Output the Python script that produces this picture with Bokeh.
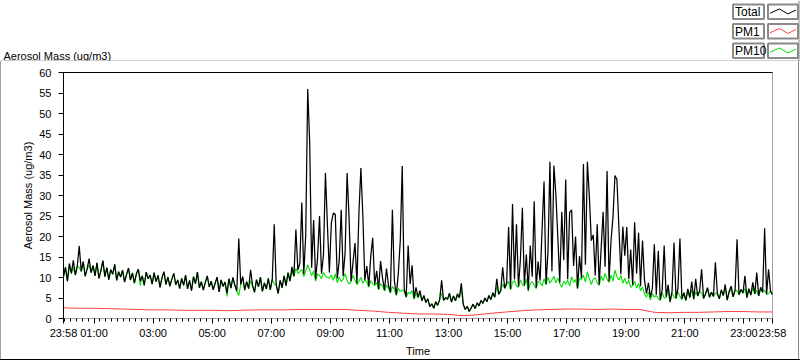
import pandas as pd
from bokeh.plotting import figure
from bokeh.layouts import column, row
from bokeh.models import (FixedTicker, DatetimeTickFormatter, LinearAxis, Range1d, Spacer)
from bokeh.core.properties import value
from bokeh.embed import file_html
from bokeh.resources import INLINE

# ---------------- data ----------------
start = pd.Timestamp("2010-06-14 23:58")
end = start + pd.Timedelta(hours=24)

# Total aerosol mass, one value every 4 minutes from 23:58 (15 values per hour)
total_mass = [
    10.2, 12.5, 9.1, 13.4, 11.0, 14.2, 10.6, 12.8, 17.7, 11.5, 13.9, 10.3, 12.1, 14.6, 11.2,
    12.9, 10.4, 13.6, 9.8, 11.7, 14.1, 10.2, 12.4, 9.5, 11.9, 10.8, 13.2, 9.3, 11.4, 10.1,
    11.8, 8.9, 10.7, 12.3, 9.4, 11.1, 8.6, 10.9, 12.0, 9.2, 10.4, 8.1, 11.3, 9.7, 10.6,
    8.4, 11.2, 9.0, 10.5, 7.6, 9.9, 11.4, 8.3, 10.1, 7.9, 9.6, 11.0, 8.2, 9.4, 7.3,
    9.8, 8.1, 10.6, 7.2, 9.3, 6.8, 10.2, 8.5, 11.3, 7.5, 9.0, 6.9, 8.8, 10.4, 7.7,
    9.1, 7.0, 8.6, 10.1, 6.5, 9.4, 7.8, 8.9, 6.2, 9.7, 7.4, 10.0, 8.1, 6.7, 19.5,
    8.3, 10.2, 6.9, 9.0, 7.3, 11.9, 8.0, 6.4, 9.5, 7.7, 10.1, 6.6, 8.7, 7.2, 9.8,
    7.0, 9.6, 23.0, 8.2, 6.1, 9.3, 7.5, 10.4, 8.0, 11.2, 9.1, 12.6, 10.3, 21.7, 11.8,
    13.5, 28.3, 10.8, 20.5, 56.0, 43.0, 12.4, 24.0, 9.6, 14.8, 25.0, 10.9, 15.6, 35.5, 22.9,
    11.2, 23.3, 25.7, 25.4, 9.8, 14.1, 26.5, 10.3, 16.2, 35.5, 24.5, 9.1, 13.7, 18.4, 8.6,
    25.7, 36.7, 25.0, 9.4, 12.8, 7.9, 15.1, 19.7, 8.3, 11.6, 7.2, 14.0, 9.8, 6.9, 12.2,
    8.1, 6.4, 26.5, 9.2, 5.8, 11.0, 19.0, 37.2, 7.1, 5.3, 17.8, 8.4, 13.0, 4.9, 7.6,
    5.2, 6.8, 4.3, 5.6, 3.9, 4.8, 2.9, 3.6, 2.5, 4.1, 3.2, 4.6, 9.3, 4.4, 5.1,
    4.7, 6.2, 4.0, 5.5, 4.3, 6.0, 5.1, 8.6, 3.4, 2.2, 3.0, 1.7, 2.6, 3.5, 2.4,
    3.8, 3.1, 4.4, 3.7, 5.0, 4.1, 5.6, 4.6, 6.3, 5.2, 9.7, 5.9, 6.8, 12.5, 7.4,
    8.6, 22.3, 7.2, 27.9, 9.5, 23.0, 7.8, 14.4, 27.0, 8.1, 15.6, 6.9, 17.8, 10.2, 28.6,
    7.5, 13.9, 9.2, 21.7, 33.4, 8.4, 16.3, 38.2, 11.5, 37.3, 30.3, 19.7, 8.8, 26.0, 14.2,
    33.9, 9.6, 25.9, 26.5, 12.8, 20.0, 7.4, 15.2, 9.9, 37.7, 13.1, 38.2, 29.8, 19.0, 20.4,
    10.5, 23.0, 8.3, 17.1, 26.0, 12.6, 36.0, 9.1, 18.9, 24.7, 34.9, 33.9, 22.3, 10.8, 22.4,
    15.3, 22.3, 9.6, 16.8, 8.2, 23.5, 11.0, 20.9, 7.9, 19.0, 9.4, 6.1, 8.7, 5.2, 7.3,
    18.1, 5.8, 16.5, 4.6, 7.0, 17.8, 5.3, 8.2, 4.1, 6.6, 18.5, 5.0, 7.4, 19.5, 4.8,
    6.3, 4.4, 7.2, 5.1, 9.0, 4.7, 9.7, 5.5, 6.8, 12.0, 4.9, 6.0, 7.5, 5.2, 6.4,
    5.4, 13.7, 6.1, 4.8, 7.0, 5.6, 8.3, 4.5, 6.6, 7.9, 5.3, 6.9, 19.3, 5.8, 7.1,
    6.2, 10.4, 5.1, 7.3, 5.7, 8.8, 6.0, 11.2, 5.5, 7.6, 6.4, 22.0, 5.9, 12.0, 6.7,
    5.8,
]

# PM10, same 4-minute sampling
pm10_mass = [
    10.2, 12.5, 9.1, 13.4, 11.0, 12.5, 10.6, 12.8, 12.4, 11.5, 13.9, 10.3, 12.1, 13.0, 11.2,
    12.9, 10.4, 13.6, 9.8, 11.7, 14.1, 10.2, 12.4, 9.5, 11.9, 10.8, 13.2, 9.3, 11.4, 10.1,
    11.8, 8.9, 10.7, 12.3, 9.4, 11.1, 8.6, 10.9, 12.0, 8.0, 10.4, 8.1, 11.3, 9.7, 10.6,
    8.4, 11.2, 9.0, 10.5, 7.6, 9.9, 11.4, 8.3, 10.1, 7.9, 9.6, 11.0, 8.2, 9.4, 7.3,
    9.8, 8.1, 10.6, 7.2, 9.3, 6.8, 10.2, 8.5, 11.3, 7.5, 9.0, 6.9, 8.8, 10.4, 7.7,
    9.1, 7.0, 8.6, 10.1, 6.5, 9.4, 7.8, 8.9, 5.4, 9.7, 7.4, 10.0, 8.1, 6.7, 5.6,
    8.3, 10.2, 6.9, 9.0, 7.3, 9.2, 8.0, 6.4, 9.5, 7.7, 10.1, 6.6, 8.7, 7.2, 9.8,
    7.0, 9.6, 8.4, 8.2, 6.1, 9.3, 7.5, 10.4, 8.0, 11.2, 9.1, 11.4, 10.3, 12.2, 11.0,
    11.4, 12.0, 10.2, 11.5, 13.1, 11.8, 10.4, 11.6, 9.1, 10.9, 10.5, 9.7, 11.2, 10.4, 10.0,
    9.8, 10.6, 9.3, 10.9, 8.7, 10.1, 9.0, 9.6, 11.0, 9.2, 8.4, 9.0, 10.5, 9.3, 8.2,
    9.1, 10.0, 8.6, 9.4, 8.9, 7.6, 9.2, 8.4, 8.0, 8.8, 7.0, 8.5, 7.9, 6.7, 8.1,
    7.4, 6.2, 7.8, 7.1, 5.6, 7.3, 6.6, 7.0, 6.5, 5.1, 6.4, 6.0, 6.8, 4.7, 6.2,
    5.0, 6.1, 4.3, 5.4, 3.9, 4.8, 2.9, 3.6, 2.5, 4.1, 3.2, 4.6, 6.2, 4.4, 5.0,
    4.7, 5.8, 4.0, 5.5, 4.3, 5.6, 5.1, 7.2, 3.4, 2.2, 3.0, 1.7, 2.6, 3.5, 2.4,
    3.8, 3.1, 4.4, 3.7, 5.0, 4.1, 5.6, 4.6, 6.0, 5.2, 7.8, 5.9, 6.8, 8.4, 7.4,
    8.3, 9.1, 7.0, 8.8, 9.2, 7.9, 7.6, 9.4, 8.2, 7.9, 9.6, 6.7, 8.5, 9.0, 8.1,
    7.3, 9.0, 8.8, 7.9, 9.7, 8.2, 10.1, 8.6, 9.4, 10.3, 8.7, 9.9, 8.5, 7.6, 9.1,
    8.4, 9.3, 7.9, 10.2, 8.8, 9.5, 7.2, 9.8, 9.5, 10.6, 8.9, 11.4, 9.7, 8.3, 9.6,
    9.9, 8.7, 8.1, 10.4, 9.2, 11.0, 9.5, 8.8, 10.6, 9.1, 11.8, 10.2, 9.4, 10.5, 8.6,
    9.8, 8.4, 9.3, 7.6, 8.0, 9.1, 7.4, 8.5, 6.8, 7.7, 6.0, 5.2, 6.5, 4.5, 6.1,
    5.2, 5.6, 4.8, 4.4, 6.3, 5.0, 5.1, 6.9, 3.9, 6.2, 5.3, 4.8, 6.6, 5.4, 4.6,
    6.1, 4.4, 6.8, 5.1, 7.0, 4.7, 6.5, 5.5, 6.6, 6.2, 4.9, 6.0, 7.3, 5.2, 6.4,
    5.4, 6.2, 6.0, 4.8, 6.8, 5.6, 7.4, 4.5, 6.4, 7.1, 5.3, 6.9, 6.8, 5.8, 6.9,
    6.2, 7.3, 5.1, 7.1, 5.7, 7.5, 6.0, 6.9, 5.5, 7.4, 6.4, 6.9, 5.9, 6.1, 6.7,
    5.8,
]

# PM1, one value every 30 minutes from 23:58
pm1_mass = [
    2.6, 2.5, 2.5, 2.4, 2.3, 2.2, 2.1, 2.1, 2.0, 2.0, 2.0, 1.9, 2.0, 2.1, 2.1, 2.1,
    2.2, 2.2, 2.2, 2.2, 2.0, 1.8, 1.5, 1.3, 1.1, 1.1, 1.0, 0.7, 0.9, 1.3, 1.6, 1.9,
    2.1, 2.2, 2.3, 2.3, 2.2, 2.3, 2.2, 2.2, 1.5, 1.4, 1.5, 1.5, 1.6, 1.7, 1.7, 1.6,
    1.6,
]

series_names = ["Total", "PM1", "PM10"]
series_colors = ["black", "#ff4040", "#00e000"]

hour_labels = ["01:00", "03:00", "05:00", "07:00", "09:00", "11:00",
               "13:00", "15:00", "17:00", "19:00", "21:00", "23:00"]
y_ticks = [0, 5, 10, 15, 20, 25, 30, 35, 40, 45, 50, 55, 60]

# ---------------- derived ----------------
def ms(ts):
    return ts.value // 10**6

t_total = pd.date_range(start, periods=len(total_mass), freq="4min")
t_pm1 = pd.date_range(start, periods=len(pm1_mass), freq="30min")
day2 = start.normalize() + pd.Timedelta(days=1)
major_ticks = [ms(start)] + [ms(day2 + pd.Timedelta(h + ":00")) for h in hour_labels] + [ms(end)]
minor_ticks = [ms(t) for t in pd.date_range(day2, day2 + pd.Timedelta("23:48:00"), freq="12min")]

FONT = value("Liberation Sans")
GRAY = "#a0a0a0"
BOXGRAY = "#8a8a8a"

# ---------------- header (title + legend) ----------------
PW, HH = 800, 61
hdr = figure(width=PW, height=HH, x_range=Range1d(0, PW), y_range=Range1d(HH, 0),
             min_border=0, x_axis_location=None, y_axis_location=None,
             toolbar_location=None, output_backend="svg", title=None)
hdr.grid.visible = False
hdr.outline_line_color = None
hdr.background_fill_color = "white"
hdr.border_fill_color = "white"
hdr.text(x=[3], y=[55], text=["Aerosol Mass (ug/m3)"], text_font=FONT,
         text_font_size="11px", text_baseline="alphabetic", text_color="black")
row_top = [4, 23.5, 43]
box_h = 14.5
hdr.quad(left=[732.5] * 3, right=[763.5] * 3, top=row_top, bottom=[t + box_h for t in row_top],
         fill_color="white", line_color=BOXGRAY, line_width=2)
hdr.quad(left=[767.5] * 3, right=[797.5] * 3, top=row_top, bottom=[t + box_h for t in row_top],
         fill_color="white", line_color=BOXGRAY, line_width=2)
hdr.text(x=[734.5] * 3, y=[t + box_h / 2 + 0.5 for t in row_top], text=series_names,
         text_font=FONT, text_font_size="12px", text_baseline="middle", text_color="black")
zx = [769.5, 779, 787.5, 795.5]
zy = [1.5, -2.8, 2.2, -1.8]
hdr.multi_line(xs=[zx] * 3, ys=[[t + box_h / 2 + d for d in zy] for t in row_top],
               line_color=series_colors, line_width=1)
hdr.segment(x0=[0], y0=[60.5], x1=[799], y1=[60.5], line_color=GRAY, line_width=1)
hdr.segment(x0=[798.5], y0=[0], x1=[798.5], y1=[HH], line_color=BOXGRAY, line_width=1)

# ---------------- main chart ----------------
MH = 298
p = figure(width=797, height=MH, x_axis_type="datetime",
           x_range=Range1d(start, end), y_range=Range1d(0, 60),
           min_border_left=62, min_border_right=26, min_border_top=11, min_border_bottom=37,
           toolbar_location=None, output_backend="svg", title=None)
p.grid.visible = False
p.outline_line_color = GRAY
p.background_fill_color = "white"
p.border_fill_color = "white"

p.line(t_total, pm10_mass, line_color=series_colors[2], line_width=1.1)
p.line(t_pm1, pm1_mass, line_color=series_colors[1], line_width=1)
p.line(t_total, total_mass, line_color=series_colors[0], line_width=1.25)

xa = p.xaxis[0]
xa.ticker = FixedTicker(ticks=major_ticks, minor_ticks=minor_ticks)
fmt = "%H:%M"
xa.formatter = DatetimeTickFormatter(milliseconds=fmt, seconds=fmt, minsec=fmt, minutes=fmt,
                                     hourmin=fmt, hours=fmt, days=fmt, months=fmt, years=fmt)
xa.axis_label = "Time"
xa.axis_line_color = GRAY
xa.major_tick_out = 5
xa.major_tick_in = 0
xa.minor_tick_out = 3
xa.minor_tick_in = 0
xa.major_label_standoff = 3
xa.axis_label_standoff = 3
xa.minor_tick_line_color = "black"

ya = p.yaxis[0]
ya.ticker = FixedTicker(ticks=y_ticks, minor_ticks=[])
ya.axis_label = "Aerosol Mass (ug/m3)"
ya.axis_line_color = "black"
ya.major_tick_out = 5
ya.major_tick_in = 0
ya.minor_tick_line_color = None
ya.major_label_standoff = 7
ya.axis_label_standoff = 2

for ax in (xa, ya):
    ax.major_label_text_font = "Liberation Sans"
    ax.major_label_text_font_size = "11px"
    ax.major_label_text_color = "black"
    ax.axis_label_text_font = "Liberation Sans"
    ax.axis_label_text_font_size = "11px"
    ax.axis_label_text_font_style = "normal"
    ax.axis_label_text_color = "black"
    ax.major_tick_line_color = "black"

top_ax = LinearAxis(ticker=FixedTicker(ticks=[]), axis_line_color="black",
                    major_tick_line_color=None, minor_tick_line_color=None,
                    major_label_text_font_size="0px", major_label_standoff=0)
p.add_layout(top_ax, "above")

# outer frame lines of the graph panel
left_edge = Spacer(width=1, height=MH, margin=0, styles={"background-color": GRAY})
right_edge = Spacer(width=1, height=MH, margin=0, styles={"background-color": BOXGRAY})
bottom_edge = Spacer(width=PW, height=1, margin=0, styles={"background-color": "black"})

layout = column(hdr, row(left_edge, p, right_edge, spacing=0), bottom_edge, spacing=0)
open("out.html", "w").write(file_html(layout, INLINE))
